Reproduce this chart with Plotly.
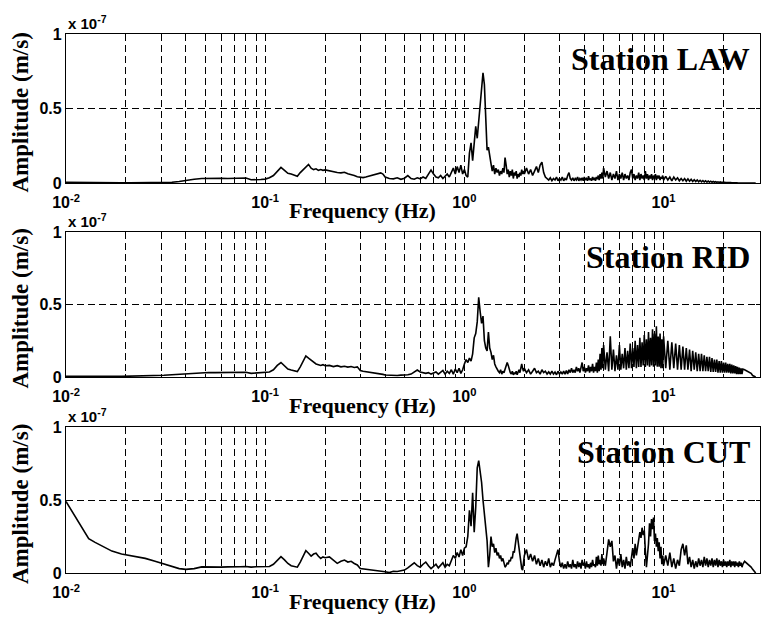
import plotly.graph_objects as go

# Frequency bins (Hz), grouped in segments of the spectrum
FREQ_HZ = [
    [0.010, 0.011, 0.012, 0.013, 0.014, 0.015, 0.017, 0.019, 0.021, 0.023,
     0.025, 0.028, 0.031, 0.034, 0.037, 0.040, 0.044, 0.048, 0.052, 0.056,
     0.060, 0.065, 0.070, 0.075, 0.080, 0.085, 0.090, 0.095, 0.100],
    [0.105, 0.110, 0.115, 0.120, 0.125, 0.130, 0.135, 0.140, 0.145, 0.150,
     0.155, 0.160, 0.165, 0.170, 0.175, 0.180, 0.185, 0.190, 0.195, 0.200,
     0.21, 0.22, 0.23, 0.24, 0.25, 0.26, 0.27, 0.28, 0.29, 0.30,
     0.31, 0.32, 0.33, 0.34, 0.35, 0.36, 0.37, 0.38, 0.39, 0.40,
     0.42, 0.44, 0.46, 0.48, 0.50],
    [0.52, 0.54, 0.56, 0.58, 0.60, 0.62, 0.64, 0.66, 0.68, 0.70,
     0.72, 0.74, 0.76, 0.78, 0.80, 0.82, 0.84, 0.86, 0.88, 0.90,
     0.92, 0.94, 0.96, 0.98, 1.00],
    [1.02, 1.04, 1.06, 1.08, 1.10, 1.12, 1.14, 1.16, 1.18, 1.20,
     1.22, 1.24, 1.26, 1.28, 1.30, 1.32, 1.34, 1.36, 1.38, 1.40,
     1.42, 1.44, 1.46, 1.48, 1.50, 1.52, 1.54, 1.56, 1.58, 1.60,
     1.62, 1.64, 1.66, 1.68, 1.70, 1.72, 1.74, 1.76, 1.78, 1.80,
     1.82, 1.84, 1.86, 1.88, 1.90, 1.92, 1.94, 1.96, 1.98, 2.00],
    [2.05, 2.10, 2.15, 2.20, 2.25, 2.30, 2.35, 2.40, 2.45, 2.50,
     2.55, 2.60, 2.65, 2.70, 2.75, 2.80, 2.85, 2.90, 2.95, 3.00,
     3.05, 3.10, 3.15, 3.20, 3.25, 3.30, 3.35, 3.40, 3.45, 3.50,
     3.55, 3.60, 3.65, 3.70, 3.75, 3.80, 3.85, 3.90, 3.95, 4.00,
     4.05, 4.10, 4.15, 4.20, 4.25, 4.30, 4.35, 4.40, 4.45, 4.50,
     4.55, 4.60, 4.65, 4.70, 4.75, 4.80, 4.85, 4.90, 4.95, 5.00],
    [5.1, 5.2, 5.3, 5.4, 5.5, 5.6, 5.7, 5.8, 5.9, 6.0,
     6.1, 6.2, 6.3, 6.4, 6.5, 6.6, 6.7, 6.8, 6.9, 7.0,
     7.1, 7.2, 7.3, 7.4, 7.5, 7.6, 7.7, 7.8, 7.9, 8.0,
     8.1, 8.2, 8.3, 8.4, 8.5, 8.6, 8.7, 8.8, 8.9, 9.0,
     9.1, 9.2, 9.3, 9.4, 9.5, 9.6, 9.7, 9.8, 9.9, 10.0],
    [10.25, 10.5, 10.75, 11.0, 11.25, 11.5, 11.75, 12.0, 12.25, 12.5,
     12.75, 13.0, 13.25, 13.5, 13.75, 14.0, 14.25, 14.5, 14.75, 15.0,
     15.25, 15.5, 15.75, 16.0, 16.25, 16.5, 16.75, 17.0, 17.25, 17.5,
     17.75, 18.0, 18.25, 18.5, 18.75, 19.0, 19.25, 19.5, 19.75, 20.0,
     20.25, 20.5, 20.75, 21.0, 21.25, 21.5, 21.75, 22.0, 22.25, 22.5,
     22.75, 23.0, 23.25, 23.5, 23.75, 24.0, 24.25, 24.5, 24.75, 25.0],
    [25.5, 26.0, 26.5, 27.0, 27.5, 28.0, 28.5, 29.0],
]

# Amplitude spectra in units of 1e-7 m/s, same segments as FREQ_HZ
AMP_LAW = [
    [0.004, 0.003, 0.003, 0.002, 0.002, 0.002, 0.002, 0.002, 0.002, 0.002,
     0.002, 0.002, 0.003, 0.005, 0.010, 0.018, 0.025, 0.030, 0.032, 0.032,
     0.031, 0.030, 0.031, 0.030, 0.034, 0.022, 0.020, 0.023, 0.026],
    [0.035, 0.050, 0.080, 0.105, 0.085, 0.065, 0.060, 0.050, 0.045, 0.070,
     0.090, 0.110, 0.125, 0.100, 0.090, 0.095, 0.085, 0.090, 0.085, 0.088,
     0.080, 0.075, 0.070, 0.068, 0.072, 0.062, 0.058, 0.050, 0.042, 0.038,
     0.036, 0.040, 0.045, 0.050, 0.055, 0.060, 0.065, 0.068, 0.060, 0.040,
     0.030, 0.028, 0.035, 0.025, 0.032],
    [0.050, 0.030, 0.025, 0.035, 0.028, 0.040, 0.030, 0.060, 0.087, 0.060,
     0.040, 0.035, 0.050, 0.030, 0.045, 0.060, 0.040, 0.070, 0.100, 0.060,
     0.110, 0.070, 0.120, 0.060, 0.090],
    [0.05, 0.04, 0.20, 0.27, 0.15, 0.30, 0.38, 0.30, 0.42, 0.50,
     0.62, 0.74, 0.66, 0.45, 0.22, 0.24, 0.17, 0.13, 0.08, 0.12,
     0.06, 0.10, 0.07, 0.09, 0.05, 0.08, 0.06, 0.10, 0.07, 0.17,
     0.12, 0.06, 0.09, 0.04, 0.08, 0.05, 0.09, 0.03, 0.07, 0.05,
     0.08, 0.03, 0.06, 0.04, 0.07, 0.05, 0.09, 0.06, 0.08, 0.06],
    [0.10, 0.06, 0.09, 0.05, 0.08, 0.11, 0.07, 0.12, 0.14, 0.07,
     0.04, 0.03, 0.02, 0.035, 0.015, 0.03, 0.02, 0.04, 0.015, 0.03,
     0.02, 0.04, 0.015, 0.03, 0.02, 0.05, 0.07, 0.03, 0.02, 0.035,
     0.015, 0.03, 0.02, 0.04, 0.015, 0.03, 0.02, 0.035, 0.015, 0.04,
     0.02, 0.03, 0.015, 0.045, 0.02, 0.03, 0.015, 0.04, 0.02, 0.035,
     0.015, 0.04, 0.025, 0.05, 0.02, 0.06, 0.03, 0.07, 0.03, 0.10],
    [0.04, 0.08, 0.03, 0.07, 0.02, 0.06, 0.03, 0.08, 0.02, 0.06,
     0.03, 0.07, 0.02, 0.06, 0.03, 0.05, 0.02, 0.07, 0.09, 0.03,
     0.06, 0.02, 0.05, 0.03, 0.07, 0.02, 0.06, 0.03, 0.05, 0.02,
     0.08, 0.03, 0.06, 0.02, 0.05, 0.03, 0.06, 0.02, 0.05, 0.03,
     0.06, 0.02, 0.05, 0.03, 0.05, 0.02, 0.04, 0.03, 0.05, 0.02],
    [0.045, 0.02, 0.04, 0.015, 0.04, 0.02, 0.035, 0.015, 0.03, 0.015,
     0.03, 0.012, 0.028, 0.012, 0.025, 0.01, 0.022, 0.01, 0.02, 0.008,
     0.018, 0.008, 0.016, 0.007, 0.015, 0.006, 0.013, 0.006, 0.012, 0.005,
     0.01, 0.005, 0.009, 0.004, 0.008, 0.004, 0.007, 0.004, 0.006, 0.003,
     0.005, 0.003, 0.004, 0.003, 0.004, 0.002, 0.003, 0.002, 0.003, 0.002,
     0.002, 0.002, 0.002, 0.001, 0.001, 0.001, 0.001, 0.001, 0.001, 0.001],
    [0.001, 0.0005, 0.0005, 0.0, 0.0, 0.0, 0.0, 0.0],
]

AMP_RID = [
    [0.005, 0.004, 0.004, 0.004, 0.004, 0.004, 0.004, 0.004, 0.005, 0.005,
     0.006, 0.008, 0.012, 0.015, 0.018, 0.020, 0.025, 0.030, 0.031, 0.030,
     0.030, 0.031, 0.030, 0.030, 0.033, 0.025, 0.028, 0.030, 0.030],
    [0.035, 0.050, 0.080, 0.100, 0.080, 0.055, 0.048, 0.042, 0.037, 0.070,
     0.110, 0.145, 0.130, 0.115, 0.100, 0.090, 0.085, 0.080, 0.085, 0.078,
     0.080, 0.072, 0.078, 0.070, 0.074, 0.068, 0.072, 0.066, 0.070, 0.045,
     0.040, 0.037, 0.035, 0.030, 0.032, 0.028, 0.025, 0.022, 0.018, 0.014,
     0.012, 0.015, 0.010, 0.013, 0.012],
    [0.015, 0.020, 0.035, 0.048, 0.035, 0.030, 0.025, 0.030, 0.020, 0.028,
     0.035, 0.020, 0.030, 0.045, 0.020, 0.040, 0.025, 0.050, 0.020, 0.055,
     0.030, 0.060, 0.025, 0.050, 0.090],
    [0.12, 0.10, 0.13, 0.11, 0.16, 0.27, 0.30, 0.38, 0.55, 0.45,
     0.37, 0.42, 0.25, 0.20, 0.18, 0.31, 0.20, 0.17, 0.12, 0.15,
     0.09, 0.07, 0.05, 0.04, 0.03, 0.05, 0.02, 0.04, 0.03, 0.06,
     0.07, 0.10, 0.08, 0.05, 0.03, 0.02, 0.04, 0.015, 0.03, 0.02,
     0.04, 0.015, 0.03, 0.05, 0.03, 0.07, 0.09, 0.06, 0.04, 0.06],
    [0.03, 0.05, 0.02, 0.04, 0.06, 0.03, 0.04, 0.02, 0.05, 0.03,
     0.04, 0.02, 0.035, 0.02, 0.04, 0.02, 0.035, 0.015, 0.04, 0.02,
     0.035, 0.02, 0.04, 0.02, 0.045, 0.02, 0.05, 0.03, 0.06, 0.03,
     0.05, 0.03, 0.07, 0.04, 0.06, 0.03, 0.08, 0.10, 0.04, 0.07,
     0.03, 0.06, 0.04, 0.08, 0.03, 0.07, 0.04, 0.09, 0.03, 0.07,
     0.04, 0.10, 0.03, 0.12, 0.04, 0.16, 0.05, 0.20, 0.06, 0.22],
    [0.05, 0.17, 0.04, 0.28, 0.05, 0.19, 0.04, 0.15, 0.05, 0.22,
     0.05, 0.16, 0.06, 0.20, 0.05, 0.18, 0.06, 0.23, 0.06, 0.20,
     0.07, 0.25, 0.06, 0.22, 0.07, 0.27, 0.07, 0.24, 0.08, 0.29,
     0.07, 0.26, 0.08, 0.31, 0.07, 0.27, 0.08, 0.33, 0.07, 0.30,
     0.08, 0.35, 0.07, 0.28, 0.07, 0.30, 0.06, 0.26, 0.06, 0.28],
    [0.06, 0.25, 0.05, 0.24, 0.06, 0.23, 0.05, 0.22, 0.05, 0.21,
     0.05, 0.20, 0.05, 0.19, 0.04, 0.18, 0.05, 0.17, 0.04, 0.16,
     0.04, 0.16, 0.04, 0.15, 0.04, 0.14, 0.04, 0.14, 0.035, 0.13,
     0.035, 0.12, 0.035, 0.12, 0.03, 0.11, 0.03, 0.11, 0.03, 0.10,
     0.03, 0.10, 0.03, 0.09, 0.03, 0.09, 0.025, 0.085, 0.025, 0.08,
     0.025, 0.075, 0.02, 0.07, 0.02, 0.065, 0.02, 0.06, 0.02, 0.055],
    [0.05, 0.045, 0.04, 0.035, 0.025, 0.01, 0.002, 0.0],
]

AMP_CUT = [
    [0.49, 0.40, 0.32, 0.235, 0.21, 0.19, 0.15, 0.13, 0.12, 0.11,
     0.10, 0.08, 0.063, 0.045, 0.03, 0.025, 0.03, 0.042, 0.040, 0.038,
     0.040, 0.042, 0.040, 0.043, 0.045, 0.040, 0.043, 0.042, 0.045],
    [0.045, 0.060, 0.090, 0.112, 0.090, 0.065, 0.050, 0.043, 0.040, 0.075,
     0.120, 0.153, 0.135, 0.116, 0.130, 0.135, 0.115, 0.100, 0.110, 0.105,
     0.110, 0.090, 0.066, 0.080, 0.089, 0.075, 0.080, 0.065, 0.055, 0.030,
     0.028, 0.025, 0.022, 0.020, 0.020, 0.018, 0.016, 0.015, 0.012, 0.008,
     0.003, 0.012, 0.010, 0.015, 0.020],
    [0.035, 0.055, 0.070, 0.050, 0.040, 0.060, 0.075, 0.050, 0.030, 0.045,
     0.060, 0.035, 0.055, 0.070, 0.040, 0.060, 0.050, 0.080, 0.120, 0.100,
     0.140, 0.110, 0.160, 0.120, 0.170],
    [0.18, 0.25, 0.43, 0.32, 0.55, 0.28, 0.45, 0.72, 0.77, 0.70,
     0.62, 0.50, 0.40, 0.30, 0.22, 0.04, 0.12, 0.25, 0.18, 0.20,
     0.14, 0.17, 0.12, 0.14, 0.10, 0.12, 0.08, 0.10, 0.07, 0.04,
     0.05, 0.07, 0.06, 0.09, 0.08, 0.11, 0.10, 0.15, 0.14, 0.20,
     0.24, 0.27, 0.22, 0.18, 0.12, 0.08, 0.03, 0.02, 0.06, 0.12],
    [0.16, 0.09, 0.13, 0.08, 0.12, 0.06, 0.10, 0.05, 0.09, 0.04,
     0.08, 0.05, 0.10, 0.04, 0.07, 0.05, 0.09, 0.12, 0.16, 0.08,
     0.04, 0.07, 0.03, 0.06, 0.03, 0.08, 0.04, 0.06, 0.03, 0.09,
     0.04, 0.06, 0.03, 0.08, 0.04, 0.07, 0.03, 0.09, 0.05, 0.07,
     0.03, 0.08, 0.04, 0.06, 0.03, 0.07, 0.04, 0.09, 0.05, 0.06,
     0.04, 0.11, 0.05, 0.12, 0.06, 0.09, 0.05, 0.13, 0.06, 0.10],
    [0.05, 0.14, 0.23, 0.18, 0.22, 0.08, 0.12, 0.03, 0.10, 0.05,
     0.13, 0.04, 0.09, 0.03, 0.11, 0.05, 0.08, 0.04, 0.13, 0.17,
     0.10, 0.20, 0.12, 0.18, 0.22, 0.28, 0.24, 0.31, 0.26, 0.29,
     0.15, 0.04, 0.12, 0.20, 0.34, 0.25, 0.37, 0.30, 0.38, 0.22,
     0.27, 0.18, 0.24, 0.15, 0.21, 0.10, 0.18, 0.06, 0.12, 0.05],
    [0.12, 0.05, 0.14, 0.04, 0.10, 0.03, 0.09, 0.05, 0.16, 0.20,
     0.12, 0.19, 0.06, 0.11, 0.04, 0.09, 0.03, 0.08, 0.04, 0.10,
     0.05, 0.09, 0.04, 0.11, 0.05, 0.10, 0.04, 0.09, 0.05, 0.10,
     0.04, 0.09, 0.05, 0.10, 0.04, 0.09, 0.05, 0.08, 0.04, 0.09,
     0.05, 0.08, 0.04, 0.08, 0.05, 0.09, 0.04, 0.08, 0.05, 0.08,
     0.04, 0.08, 0.05, 0.07, 0.04, 0.08, 0.05, 0.07, 0.04, 0.06],
    [0.08, 0.07, 0.06, 0.05, 0.04, 0.025, 0.01, 0.0],
]

STATIONS = ["Station LAW", "Station RID", "Station CUT"]

# Decade ticks carry the labels; the 2..9 positions only get dashed grid lines
DECADE_FREQS = [0.01, 0.1, 1, 10]
DECADE_LABELS = ["10<sup>-2</sup>", "10<sup>-1</sup>", "10<sup>0</sup>", "10<sup>1</sup>"]
MINOR_FREQS = [0.02, 0.03, 0.04, 0.05, 0.06, 0.07, 0.08, 0.09,
               0.2, 0.3, 0.4, 0.5, 0.6, 0.7, 0.8, 0.9,
               2, 3, 4, 5, 6, 7, 8, 9, 20]
X_RANGE_LOG = [-2.0, 1.484]
Y_TICKS = [0, 0.5, 1]
Y_TICK_TEXT = ["0", "0.5", "1"]


def flatten(name, segs):
    out = []
    for i, (s, f) in enumerate(zip(segs, FREQ_HZ)):
        assert len(s) == len(f), f"{name} segment {i}: {len(s)} vs {len(f)}"
        out.extend(s)
    return out


freq = [v for s in FREQ_HZ for v in s]
series = [flatten("LAW", AMP_LAW), flatten("RID", AMP_RID), flatten("CUT", AMP_CUT)]

# Page geometry (pixels)
W, H = 761, 617
ML, MR, MT, MB = 66, 1, 34, 44
PW, PH = W - ML - MR, H - MT - MB
PANEL_TOP = [34, 232, 427]
PANEL_BOTTOM = [183, 377, 573]


def fx(px):
    return (px - ML) / PW


def fy(py):
    return (H - MB - py) / PH


SANS = "Liberation Sans"
SERIF = "Liberation Serif"
GRID_DASH = "7px,4px"

fig = go.Figure()
layout = dict(
    width=W, height=H,
    margin=dict(l=ML, r=MR, t=MT, b=MB),
    paper_bgcolor="white", plot_bgcolor="white",
    showlegend=False,
    annotations=[],
)

for i, (amp, title) in enumerate(zip(series, STATIONS)):
    sfx = "" if i == 0 else str(i + 1)
    fig.add_trace(go.Scatter(
        x=freq, y=amp, mode="lines",
        line=dict(color="black", width=1.6),
        xaxis="x" + sfx, yaxis="y" + sfx,
        hoverinfo="skip",
    ))
    common = dict(
        showline=True, linecolor="black", linewidth=1.2, mirror="ticks",
        ticks="inside", ticklen=4, tickcolor="black", tickwidth=1,
        showgrid=True, gridcolor="black", gridwidth=0.9, griddash=GRID_DASH,
        zeroline=False, fixedrange=True,
    )
    layout["xaxis" + sfx] = dict(
        common, type="log", range=X_RANGE_LOG, domain=[0, 1],
        anchor="y" + sfx,
        tickmode="array", tickvals=DECADE_FREQS, ticktext=DECADE_LABELS,
        ticklabelstandoff=5,
        tickfont=dict(family=SANS, size=16, color="black", weight="bold"),
        minor=dict(
            tickmode="array", tickvals=MINOR_FREQS,
            ticks="inside", ticklen=3, tickcolor="black",
            showgrid=True, gridcolor="black", gridwidth=0.9,
            griddash=GRID_DASH,
        ),
    )
    layout["yaxis" + sfx] = dict(
        common, range=[0, 1],
        domain=[fy(PANEL_BOTTOM[i]), fy(PANEL_TOP[i])],
        anchor="x" + sfx,
        tickmode="array", tickvals=Y_TICKS, ticktext=Y_TICK_TEXT,
        tickfont=dict(family=SANS, size=16, color="black", weight="bold"),
    )

    top, bot = PANEL_TOP[i], PANEL_BOTTOM[i]
    ann = layout["annotations"]
    ann.append(dict(
        text=title, x=fx(752), y=fy(top + 25), xref="paper", yref="paper",
        xanchor="right", yanchor="middle", showarrow=False,
        font=dict(family=SERIF, size=32, color="black", weight="bold"),
    ))
    ann.append(dict(
        text="x 10<sup>-7</sup>", x=fx(66), y=fy(top - 12),
        xref="paper", yref="paper", xanchor="left", yanchor="middle",
        showarrow=False,
        font=dict(family=SANS, size=15, color="black", weight="bold"),
    ))
    ann.append(dict(
        text="Amplitude (m/s)", x=fx(20), y=fy((top + bot) / 2 + 4),
        xref="paper", yref="paper", xanchor="center", yanchor="middle",
        textangle=-90, showarrow=False,
        font=dict(family=SERIF, size=23, color="black", weight="bold"),
    ))
    ann.append(dict(
        text="Frequency (Hz)", x=fx(362), y=fy(bot + 28),
        xref="paper", yref="paper", xanchor="center", yanchor="middle",
        showarrow=False,
        font=dict(family=SERIF, size=22, color="black", weight="bold"),
    ))

fig.update_layout(**layout)
fig.write_html("out.html")
